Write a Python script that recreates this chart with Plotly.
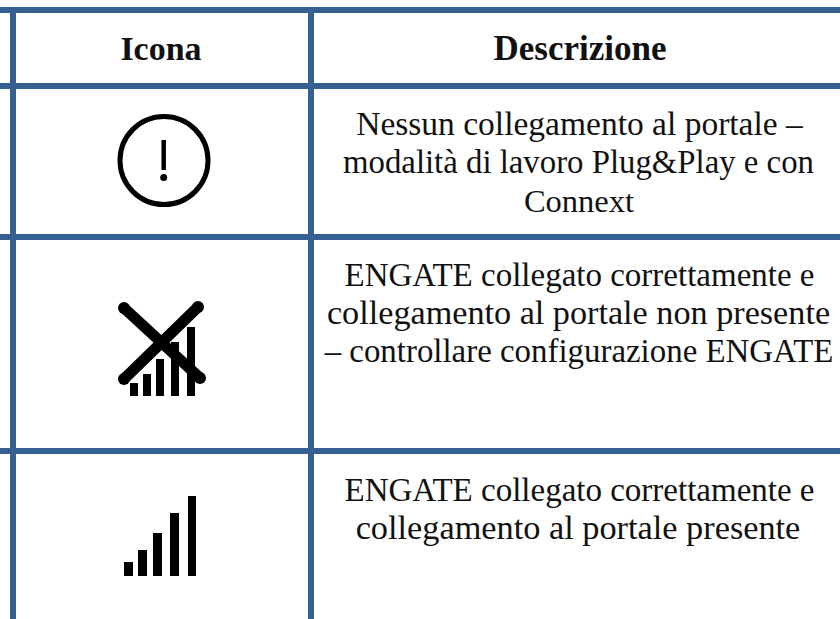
import plotly.graph_objects as go

BLUE = "#366092"
FONT = "Liberation Serif"

headers = ["Icona", "Descrizione"]
header_x = [161, 580]
header_y = [51.5, 51.5]
header_size = [34, 35]

description_lines = [
    "Nessun collegamento al portale –",
    "modalità di lavoro Plug&Play e con",
    "Connext",
    "ENGATE collegato correttamente e",
    "collegamento al portale non presente",
    "– controllare configurazione ENGATE",
    "ENGATE collegato correttamente e",
    "collegamento al portale presente",
]
description_x = [579.5, 578.5, 579, 579.5, 578.5, 579, 579.5, 578]
description_y = [127, 165, 203.5, 277.5, 315.5, 353.5, 492.5, 530.5]
description_size = [33.5, 32.8, 32.5, 33, 34.2, 32.9, 33, 34.3]

h_rule_y = [10, 86, 237, 451]
v_rule_x = [13, 311]

alert_circle_x = [164]
alert_circle_y = [160.5]
alert_stem_x = [163.7, 163.7]
alert_stem_y = [140, 170]
alert_dot_x = [163.7]
alert_dot_y = [177.5]

cross_a_x = [124, 200]
cross_a_y = [308, 378]
cross_b_x = [198, 124]
cross_b_y = [307, 379]

weak_bar_x = [134, 147, 160, 175, 191]
weak_bar_top = [383, 374, 359, 342, 327]
weak_bar_bottom = [396, 396, 396, 396, 396]
weak_bar_w = [8, 8, 8, 8, 8]

full_bar_x = [128.5, 142.5, 157.5, 174.5, 192]
full_bar_top = [562, 550, 533, 513, 496]
full_bar_bottom = [576, 576, 576, 576, 576]
full_bar_w = [9, 9, 9, 9, 8]

fig = go.Figure()

for y in h_rule_y:
    fig.add_trace(go.Scatter(x=[0, 840], y=[y, y], mode="lines", line=dict(color=BLUE, width=6)))
for x in v_rule_x:
    fig.add_trace(go.Scatter(x=[x, x], y=[7, 619], mode="lines", line=dict(color=BLUE, width=6)))

fig.add_trace(go.Scatter(x=alert_circle_x, y=alert_circle_y, mode="markers",
                         marker=dict(symbol="circle-open", size=88, line=dict(color="black", width=5), color="black")))
fig.add_trace(go.Scatter(x=alert_stem_x, y=alert_stem_y, mode="lines", line=dict(color="black", width=4.5)))
fig.add_trace(go.Scatter(x=alert_dot_x, y=alert_dot_y, mode="markers", marker=dict(color="black", size=7)))

for bx, top, bot, w in [(weak_bar_x, weak_bar_top, weak_bar_bottom, weak_bar_w),
                        (full_bar_x, full_bar_top, full_bar_bottom, full_bar_w)]:
    fig.add_trace(go.Bar(x=bx, y=[b - t for b, t in zip(bot, top)], base=top, width=w,
                         marker=dict(color="black", line=dict(width=0))))

for cx, cy in [(cross_a_x, cross_a_y), (cross_b_x, cross_b_y)]:
    fig.add_trace(go.Scatter(x=cx, y=cy, mode="lines+markers",
                             line=dict(color="black", width=11),
                             marker=dict(color="black", size=12)))

fig.add_trace(go.Scatter(x=header_x, y=header_y, mode="text", text=[f"<b>{h}</b>" for h in headers],
                         textposition="middle center", cliponaxis=False,
                         textfont=dict(family=FONT, size=header_size, color="#111111")))
fig.add_trace(go.Scatter(x=description_x, y=description_y, mode="text", text=description_lines,
                         textposition="middle center", cliponaxis=False,
                         textfont=dict(family=FONT, size=description_size, color="#111111")))

fig.update_layout(
    width=840, height=619, margin=dict(l=0, r=0, t=0, b=0),
    paper_bgcolor="white", plot_bgcolor="white", showlegend=False, barmode="overlay",
    xaxis=dict(range=[0, 840], visible=False, fixedrange=True),
    yaxis=dict(range=[619, 0], visible=False, fixedrange=True),
)
fig.write_html("out.html", config={"displayModeBar": False},
               post_script="document.body.style.margin='0';document.documentElement.style.overflow='hidden';")
